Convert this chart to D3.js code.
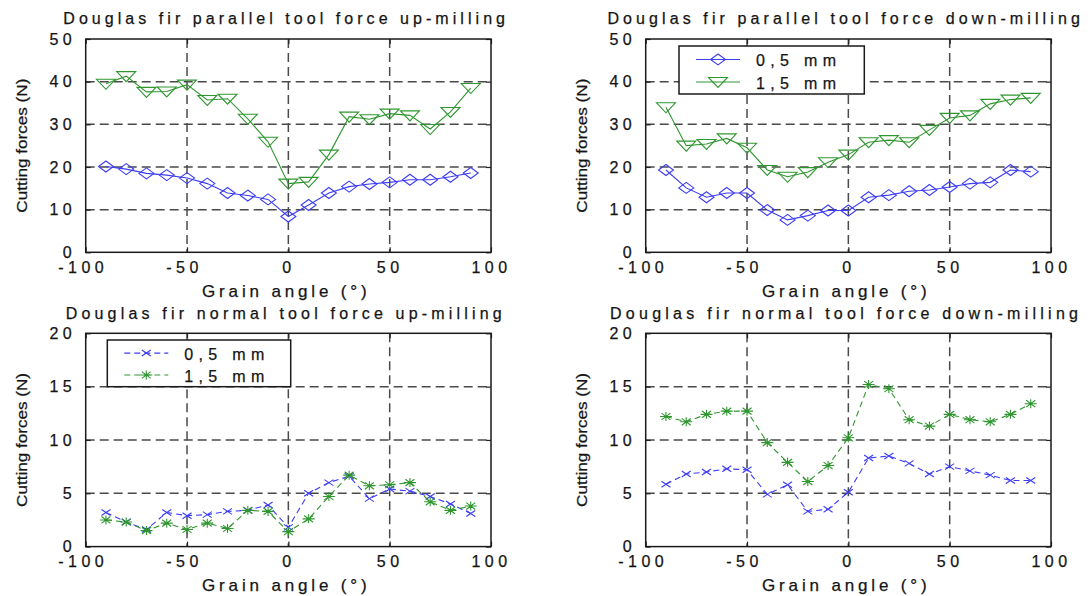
<!DOCTYPE html>
<html><head><meta charset="utf-8">
<script src="https://cdn.jsdelivr.net/npm/d3@7"></script>
<style>body{margin:0;background:#fff} svg{display:block} text{font-family:"Liberation Sans",Arial,Helvetica,sans-serif;fill:#141414;stroke:#141414;stroke-width:0.25}</style>
</head><body><svg id="c" width="1091" height="596"></svg>
<script>
// ---------- data ----------
const angles = [-90,-80,-70,-60,-50,-40,-30,-20,-10,0,10,20,30,40,50,60,70,80,90];
const parUp05   = [20.1,19.5,18.5,18.1,17.4,16.1,13.9,13.3,12.4,8.4,11.1,13.9,15.4,16.0,16.4,17.0,17.0,17.7,18.6];
const parUp15   = [39.5,41.3,37.6,37.7,39.3,35.7,36.0,31.3,25.9,16.1,16.5,22.9,31.8,31.2,32.5,32.1,28.9,32.9,38.5];
const parDown05 = [19.3,15.1,12.9,13.9,13.9,9.9,7.6,8.6,9.8,9.8,12.9,13.4,14.3,14.6,15.3,16.1,16.4,19.3,18.9];
const parDown15 = [34.0,25.0,25.4,26.7,24.5,19.3,17.7,18.8,21.1,22.9,25.8,26.3,25.8,28.7,31.5,32.1,34.8,35.8,36.2];
const normUp05   = [3.2,2.3,1.6,3.2,2.9,3.0,3.3,3.4,3.9,1.8,5.0,6.0,6.6,4.5,5.4,5.2,4.7,4.0,3.1];
const normUp15   = [2.5,2.3,1.5,2.2,1.6,2.2,1.7,3.4,3.3,1.4,2.6,4.7,6.7,5.7,5.8,6.0,4.2,3.4,3.8];
const normDown05 = [5.85,6.8,7.0,7.3,7.2,4.9,5.8,3.3,3.5,5.1,8.3,8.5,7.8,6.8,7.5,7.1,6.7,6.2,6.2];
const normDown15 = [12.2,11.7,12.4,12.7,12.7,9.75,7.9,6.1,7.6,10.2,15.2,14.8,11.9,11.3,12.4,11.9,11.7,12.4,13.4];
const xTicks = [-100,-50,0,50,100];
const yTicksPar = [0,10,20,30,40,50];
const yTicksNorm = [0,5,10,15,20];
const seriesNames = ["0,5 mm","1,5 mm"];
const titles = ["Douglas fir parallel tool force up-milling","Douglas fir parallel tool force down-milling",
                "Douglas fir normal tool force up-milling","Douglas fir normal tool force down-milling"];
const xLabel = "Grain angle (°)";
const yLabel = "Cutting forces (N)";

// ---------- style ----------
const BLUE = "#3c3cf4", GREEN = "#2f962f";
const svg = d3.select("#c");

function markerPath(type){
  if(type==="diamond") return "M0,-5.5L7.5,0L0,5.5L-7.5,0Z";
  if(type==="tri") return "M-9.5,-4.5L9.5,-4.5L0,5.5Z";
  if(type==="x") return "M-4.5,-3L4.5,3M-4.5,3L4.5,-3";
  if(type==="star") return "M-6,0L6,0M0,-4.5L0,4.5M-4.5,-3.4L4.5,3.4M-4.5,3.4L4.5,-3.4";
}

const panels = [
  {L:85.7, T:39, yMax:50, yTicks:yTicksPar, title:titles[0], tx:63.3, tw:441.7, dashed:false,
   series:[{v:parUp05,c:BLUE,m:"diamond"},{v:parUp15,c:GREEN,m:"tri"}], legend:null},
  {L:645.7, T:39, yMax:50, yTicks:yTicksPar, title:titles[1], tx:607.4, tw:472.4, dashed:false,
   series:[{v:parDown05,c:BLUE,m:"diamond"},{v:parDown15,c:GREEN,m:"tri"}], legend:{x:679,y:46,w:185.3,h:48}},
  {L:85.7, T:333.3, yMax:20, yTicks:yTicksNorm, title:titles[2], tx:65.7, tw:436, dashed:true,
   series:[{v:normUp05,c:BLUE,m:"x"},{v:normUp15,c:GREEN,m:"star"}], legend:{x:107.3,y:340,w:183.4,h:46.7}},
  {L:645.7, T:333.3, yMax:20, yTicks:yTicksNorm, title:titles[3], tx:610, tw:468, dashed:true,
   series:[{v:normDown05,c:BLUE,m:"x"},{v:normDown15,c:GREEN,m:"star"}], legend:null}
];
const W = 405.3, H = 213.3;

panels.forEach(p=>{
  const g = svg.append("g");
  const x = d3.scaleLinear().domain([-100,100]).range([p.L, p.L+W]);
  const y = d3.scaleLinear().domain([0,p.yMax]).range([p.T+H, p.T]);

  // grid
  const gx = xTicks.slice(1,-1), gy = p.yTicks.slice(1,-1);
  g.selectAll(".gx").data(gx).join("line").attr("x1",d=>x(d)).attr("x2",d=>x(d))
    .attr("y1",p.T).attr("y2",p.T+H).attr("stroke","#4a4a4a").attr("stroke-width",1.5).attr("stroke-dasharray","9,5");
  g.selectAll(".gy").data(gy).join("line").attr("y1",d=>y(d)).attr("y2",d=>y(d))
    .attr("x1",p.L).attr("x2",p.L+W).attr("stroke","#4a4a4a").attr("stroke-width",1.5).attr("stroke-dasharray","9,5");

  // axes
  const fmt = d=>String(d);
  const ax = g.append("g").attr("transform",`translate(0,${p.T+H})`)
    .call(d3.axisBottom(x).tickValues(xTicks).tickFormat(fmt).tickSizeInner(-5).tickSizeOuter(0).tickPadding(9.5));
  const ay = g.append("g").attr("transform",`translate(${p.L},0)`)
    .call(d3.axisLeft(y).tickValues(p.yTicks).tickFormat(fmt).tickSizeInner(-5).tickSizeOuter(0).tickPadding(9.5));
  g.append("g").attr("transform",`translate(0,${p.T})`)
    .call(d3.axisTop(x).tickValues(xTicks).tickSizeInner(-5).tickSizeOuter(0).tickFormat(""));
  g.append("g").attr("transform",`translate(${p.L+W},0)`)
    .call(d3.axisRight(y).tickValues(p.yTicks).tickSizeInner(-5).tickSizeOuter(0).tickFormat(""));
  g.selectAll(".domain").remove();
  g.selectAll(".tick line").attr("stroke","#222").attr("stroke-width",1.2);
  g.selectAll(".tick text").attr("font-size",16).attr("letter-spacing","4.5px")
    .attr("font-family","Liberation Sans, Arial, sans-serif").attr("fill","#141414");
  ax.selectAll(".tick text").attr("dx",d=>d<0?-3:0);

  // frame
  g.append("rect").attr("x",p.L).attr("y",p.T).attr("width",W).attr("height",H)
    .attr("fill","none").attr("stroke","#1a1a1a").attr("stroke-width",1.5);

  // data
  const line = d3.line().x((d,i)=>x(angles[i])).y(d=>y(d));
  p.series.forEach(s=>{
    g.append("path").datum(s.v).attr("d",line).attr("fill","none").attr("stroke",s.c)
      .attr("stroke-width",1.1).attr("stroke-dasharray",p.dashed?"6,4":null);
    g.selectAll(null).data(s.v).join("path").attr("d",markerPath(s.m))
      .attr("transform",(d,i)=>`translate(${x(angles[i])},${y(d)})`)
      .attr("fill","none").attr("stroke",s.c).attr("stroke-width",1.1);
  });

  // legend
  if(p.legend){
    const lg = p.legend;
    g.append("rect").attr("x",lg.x).attr("y",lg.y).attr("width",lg.w).attr("height",lg.h)
      .attr("fill","#fff").attr("stroke","#1a1a1a").attr("stroke-width",1.5);
    p.series.forEach((s,i)=>{
      const ly = lg.y + lg.h*(i===0?0.28:0.75);
      const x0 = lg.x+17, x1 = lg.x+61, xm = (x0+x1)/2;
      g.append("line").attr("x1",x0).attr("x2",x1).attr("y1",ly).attr("y2",ly)
        .attr("stroke",s.c).attr("stroke-width",1.1).attr("stroke-dasharray",p.dashed?"6,4":null);
      g.append("path").attr("d",markerPath(s.m)).attr("transform",`translate(${xm},${ly})`)
        .attr("fill","none").attr("stroke",s.c).attr("stroke-width",1.1);
      g.append("text").attr("x",lg.x+77).attr("y",ly+6.5).attr("font-size",16)
        .attr("textLength",80).attr("lengthAdjust","spacing").text(seriesNames[i]);
    });
  }

  // titles & labels
  g.append("text").attr("x",p.tx).attr("y",p.T-14.7).attr("font-size",16)
    .attr("textLength",p.tw).attr("lengthAdjust","spacing").text(p.title);
  g.append("text").attr("x",p.L+116.3).attr("y",p.T+H+44.4).attr("font-size",17)
    .attr("textLength",164.7).attr("lengthAdjust","spacing").text(xLabel);
  g.append("text").attr("transform",`translate(${p.L-59},${p.T+H/2+67})rotate(-90)`)
    .attr("font-size",15.5).attr("textLength",134).attr("lengthAdjust","spacingAndGlyphs").text(yLabel);
});
</script></body></html>
